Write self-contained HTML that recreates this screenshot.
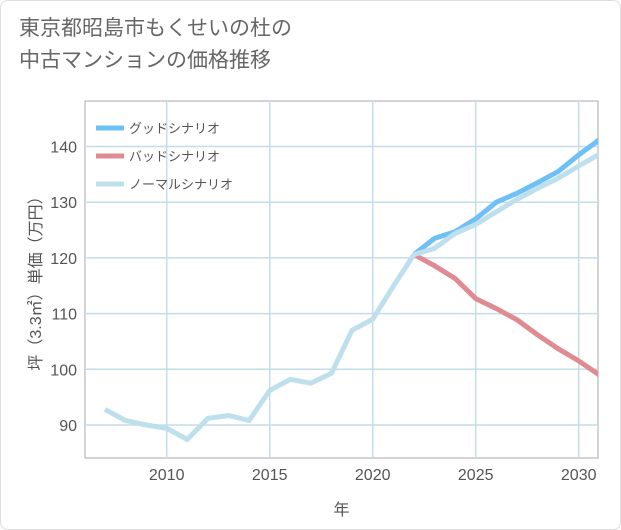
<!DOCTYPE html>
<html><head><meta charset="utf-8"><style>
body{margin:0;background:#fff;}
#wrap{position:relative;width:621px;height:530px;background:#fff;border:1px solid #ddd;box-sizing:border-box;border-radius:8px;overflow:hidden;font-family:"Liberation Sans","Noto Sans CJK JP",sans-serif;}
h1{position:absolute;left:18px;top:12px;margin:0;font-weight:normal;font-size:21px;line-height:32px;color:#666;}
</style></head><body>
<div id="wrap">
<h1>東京都昭島市もくせいの杜の<br>中古マンションの価格推移</h1>
<svg id="c" width="621" height="530" style="position:absolute;left:0;top:0"></svg>
</div>
<script>
const years=[2007,2008,2009,2010,2011,2012,2013,2014,2015,2016,2017,2018,2019,2020,2021,2022,2023,2024,2025,2026,2027,2028,2029,2030,2031];
const normalHist=[92.8,90.8,90.0,89.4,87.4,91.2,91.7,90.8,96.2,98.2,97.5,99.3,107,109,114.9,120.6];
const goodFuture=[120.6,123.5,124.7,127,130,131.6,133.5,135.5,138.5,141.2];
const badFuture=[120.6,118.6,116.3,112.7,110.9,108.9,106.2,103.7,101.5,99];
const normalFuture=[120.6,121.7,124.4,126,128.3,130.5,132.5,134.3,136.5,138.6];
const yTicks=[90,100,110,120,130,140];
const xTicks=[2010,2015,2020,2025,2030];
const legendLabels=["グッドシナリオ","バッドシナリオ","ノーマルシナリオ"];
const NS="http://www.w3.org/2000/svg";
const svg=document.getElementById('c');
const L=84,R=597,T=100,B=457;
const xs=y=>165.7+(y-2010)*20.6;
const ys=v=>424-(v-90)*5.57;
function el(t,a,p){const e=document.createElementNS(NS,t);for(const k in a)e.setAttribute(k,a[k]);(p||svg).appendChild(e);return e;}
const bg=el('rect',{x:L,y:T,width:R-L,height:B-T,fill:'#fff',stroke:'#aaa','stroke-width':1});

yTicks.forEach(v=>{
 const g=el('line',{x1:L,x2:R,y1:ys(v),y2:ys(v),stroke:'#c5dcea','stroke-width':1.5});
 
 const t=el('text',{x:L-8,y:ys(v)+6,'text-anchor':'end','font-size':16,fill:'#555'});t.textContent=v;
 
});
xTicks.forEach(v=>{
 const g=el('line',{x1:xs(v),x2:xs(v),y1:T,y2:B,stroke:'#c5dcea','stroke-width':1.5});
 
 const t=el('text',{x:xs(v),y:B+22,'text-anchor':'middle','font-size':16,fill:'#555'});t.textContent=v;
 
});
const xt=el('text',{x:(L+R)/2,y:514,'text-anchor':'middle','font-size':16,fill:'#555'});xt.textContent='年';

const yt=el('text',{x:0,y:0,'text-anchor':'middle','font-size':16,fill:'#555',transform:`translate(40,${(T+B)/2}) rotate(-90)`});yt.textContent='坪（3.3㎡）単価（万円）';

const clip=el('clipPath',{id:'cp'});el('rect',{x:L,y:T,width:R-L,height:B-T},clip);
function line(vals,start,color,name){
 const pts=vals.map((v,i)=>xs(years[start+i]).toFixed(1)+','+ys(v).toFixed(1)).join(' ');
 const p=el('polyline',{points:pts,fill:'none',stroke:color,'stroke-width':5,'stroke-linejoin':'round','clip-path':'url(#cp)'});
 
}
line(goodFuture,15,'#6ec0f5','good-scenario-line');
line(badFuture,15,'#e08a91','bad-scenario-line');
line(normalHist,0,'#bde0ec','normal-history-line');
line(normalFuture,15,'#bde0ec','normal-scenario-line');
const cols=['#6ec0f5','#e08a91','#bde0ec'];
legendLabels.forEach((lab,i)=>{
 const y=127+i*28;
 const g=el('g',{});
 
 el('line',{x1:95,x2:123,y1:y,y2:y,stroke:cols[i],'stroke-width':5},g);
 const t=el('text',{x:128,y:y+5,'font-size':13,fill:'#555'},g);t.textContent=lab;
});
</script>
</body></html>
